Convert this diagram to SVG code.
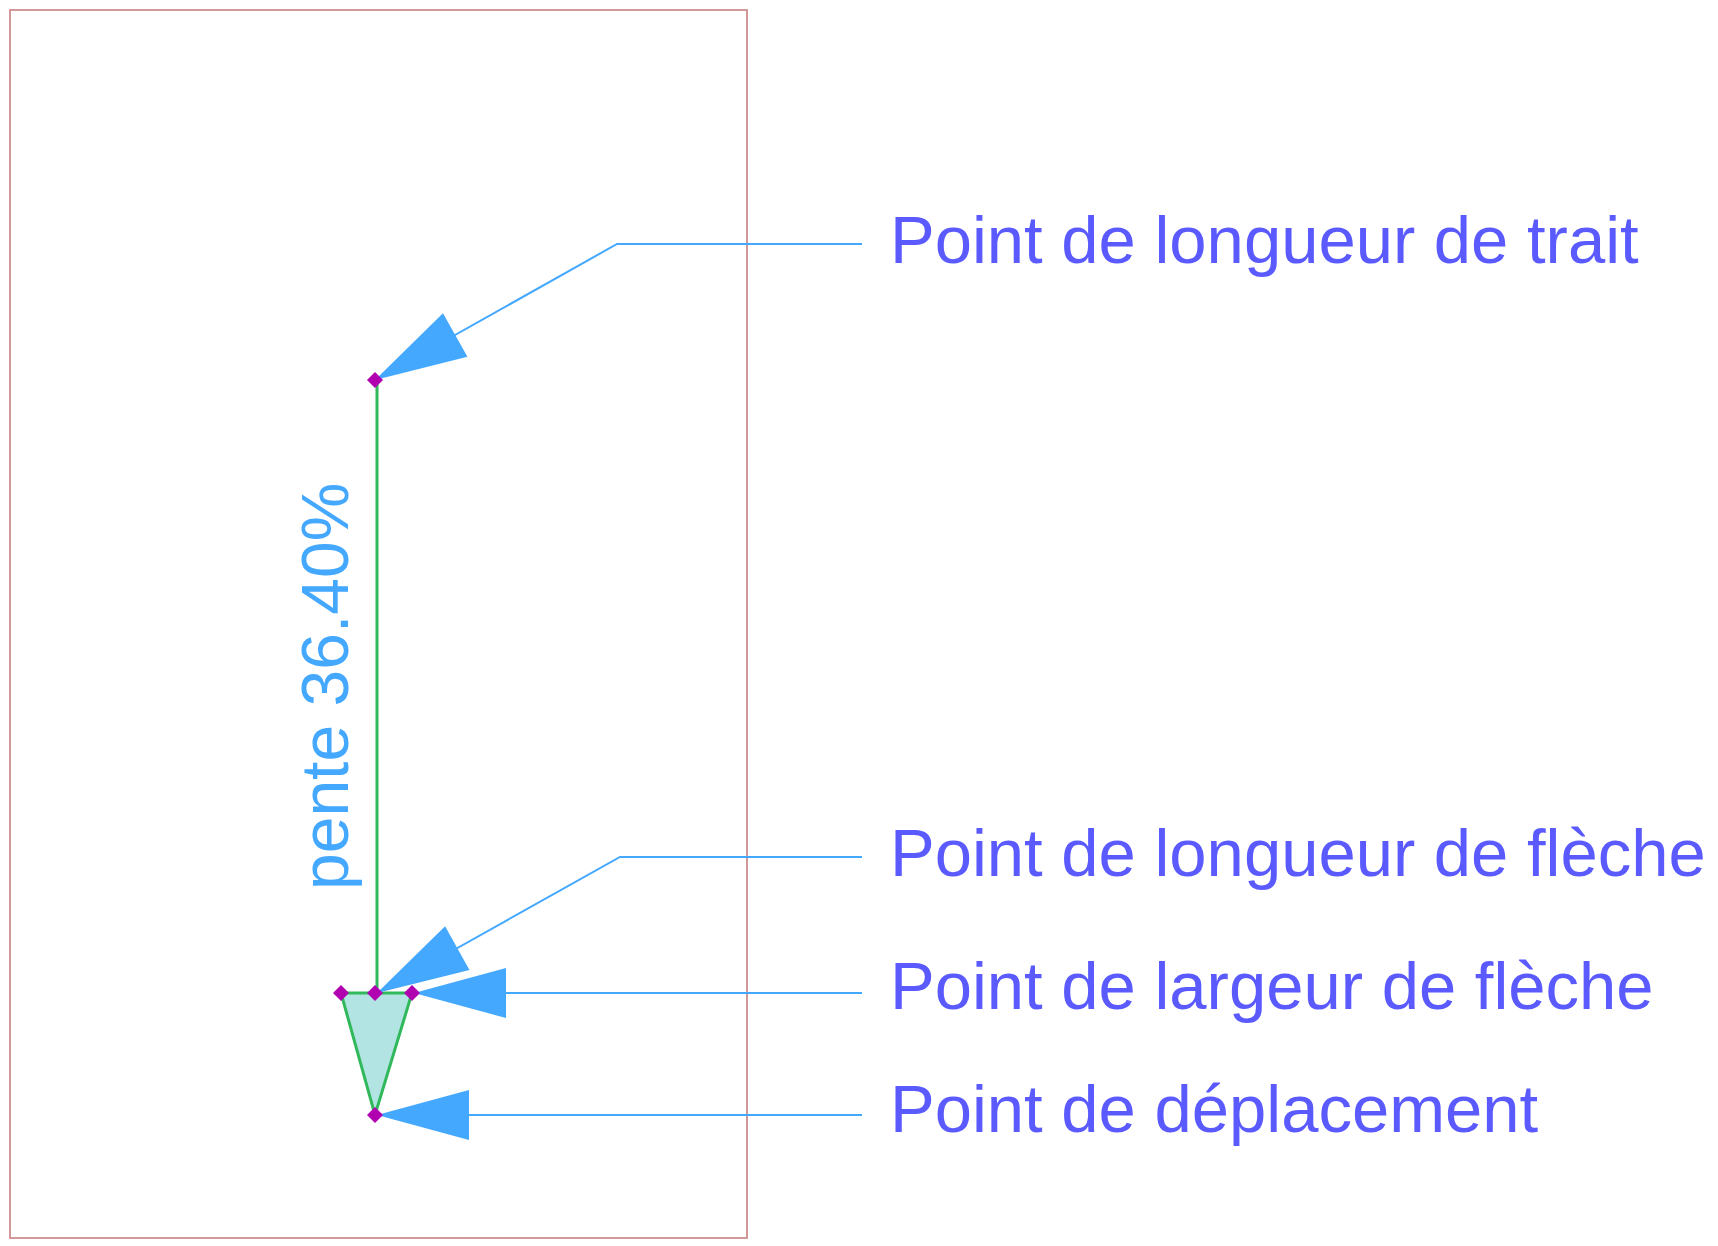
<svg xmlns="http://www.w3.org/2000/svg" width="1718" height="1246" viewBox="0 0 1718 1246">
<style>
.label{font-family:"Liberation Sans",Arial,sans-serif;font-size:67px;fill:#5a5aff}
.pente{font-family:"Liberation Sans",Arial,sans-serif;font-size:66px;fill:#44a8ff}
.leader{fill:none;stroke:#44a8ff;stroke-width:2;marker-start:url(#arr)}
.pt{fill:#b000b0}
.green{stroke:#30b85a;stroke-width:3;fill:none}
</style>
<defs>
<marker id="arr" markerUnits="userSpaceOnUse" markerWidth="100" markerHeight="60" refX="92" refY="25" orient="auto-start-reverse" overflow="visible">
<path d="M0,0 L92,25 L0,50 Z" fill="#44a8ff"/>
</marker>
<path id="dia" d="M0,-8 L8,0 L0,8 L-8,0 Z"/>
</defs>
<rect id="frame" x="10" y="10" width="737" height="1228" fill="none" stroke="#d09898" stroke-width="2"/>
<g id="symbol">
<line class="green" x1="377" y1="380" x2="377" y2="993"/>
<polygon points="341,993 412,993 375,1115" fill="#b3e4e4" stroke="#30b85a" stroke-width="3"/>
<text class="pente" transform="translate(348,890) rotate(-90)">pente 36.40%</text>
</g>
<g id="connectors">
<path class="leader" d="M375,380 L617,244 L862,244"/>
<path class="leader" d="M377,993 L620,857 L862,857"/>
<path class="leader" d="M414,993 L862,993"/>
<path class="leader" d="M377,1115 L862,1115"/>
</g>
<g id="points">
<use href="#dia" class="pt" x="375" y="380"/>
<use href="#dia" class="pt" x="341" y="993"/>
<use href="#dia" class="pt" x="375" y="993"/>
<use href="#dia" class="pt" x="412" y="993"/>
<use href="#dia" class="pt" x="375" y="1115"/>
</g>
<g id="label-trait"><text class="label" x="890" y="263">Point de longueur de trait</text></g>
<g id="label-longueur-fleche"><text class="label" x="890" y="876">Point de longueur de flèche</text></g>
<g id="label-largeur-fleche"><text class="label" x="890" y="1009">Point de largeur de flèche</text></g>
<g id="label-deplacement"><text class="label" x="890" y="1132">Point de déplacement</text></g>
</svg>
